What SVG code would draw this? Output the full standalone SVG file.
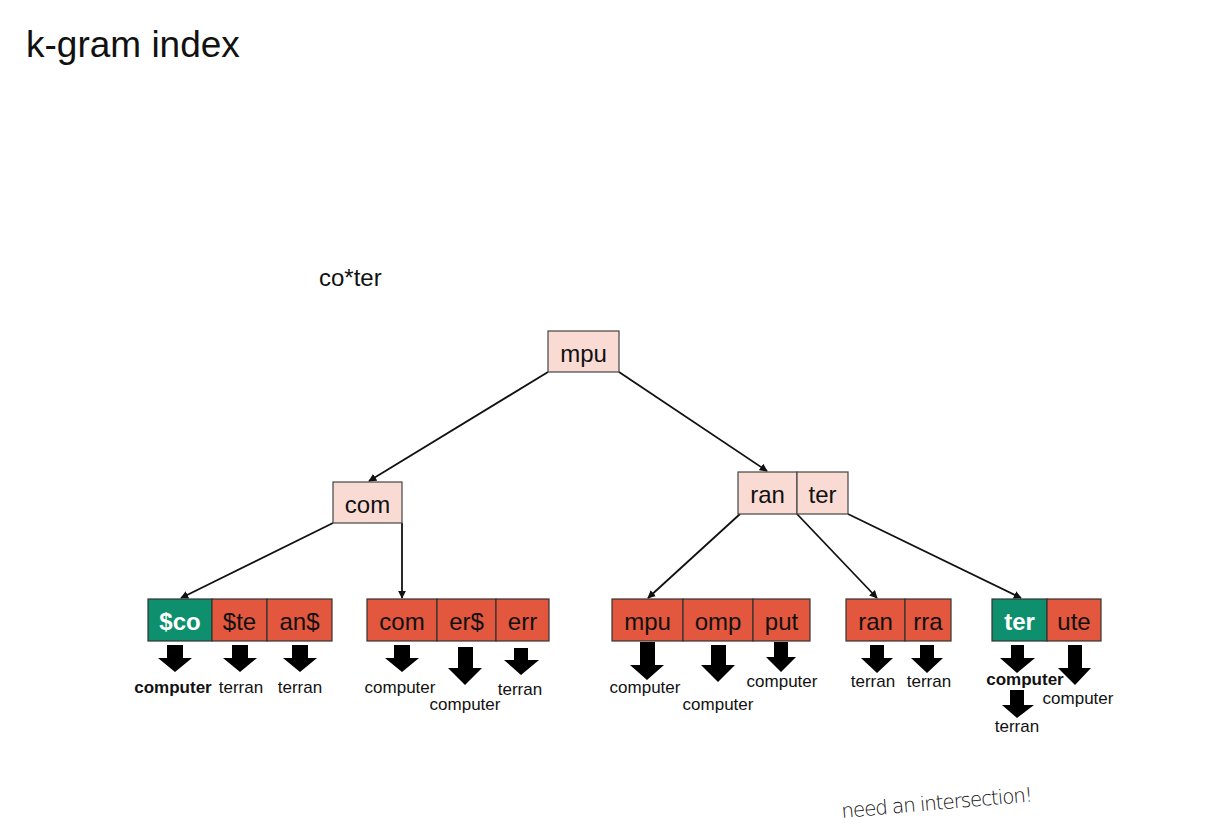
<svg xmlns="http://www.w3.org/2000/svg" width="1222" height="840" viewBox="0 0 1222 840">
<style>
text{font-family:"Liberation Sans",Arial,sans-serif;fill:#111}
.title{font-size:37px}
.q{font-size:24px}
.bt{font-size:24px;text-anchor:middle}
.wt{font-size:24px;text-anchor:middle;font-weight:bold;fill:#fff}
.lb{font-size:17px;text-anchor:middle}
.lbb{font-size:17px;text-anchor:middle;font-weight:bold}
.pink{fill:#fadbd4;stroke:#444;stroke-width:1.2}
.red{fill:#e2573d;stroke:#333;stroke-width:1.2}
.green{fill:#0e8f6e;stroke:#333;stroke-width:1.2}
.conn line{stroke:#111;stroke-width:1.8;marker-end:url(#ah)}
.arr{fill:#000}
.hand{font-family:"DejaVu Sans",sans-serif;font-size:20px;font-weight:300;fill:#111}
</style>
<defs>
<marker id="ah" viewBox="0 0 10 10" refX="9" refY="5" markerWidth="8" markerHeight="8" orient="auto" markerUnits="userSpaceOnUse">
<path d="M0,0 L10,5 L0,10 z" fill="#111"/>
</marker>
</defs>
<rect width="1222" height="840" fill="#fff"/>
<text class="title" x="26" y="57">k-gram index</text>
<text class="q" x="319" y="286">co*ter</text>

<g id="connectors" class="conn">
<line x1="548" y1="372" x2="369" y2="481"/>
<line x1="619" y1="372" x2="767" y2="471"/>
<line x1="333" y1="523" x2="181" y2="598"/>
<line x1="402" y1="523" x2="402" y2="598"/>
<line x1="740" y1="514" x2="648" y2="598"/>
<line x1="797" y1="514" x2="877" y2="598"/>
<line x1="848" y1="514" x2="1021" y2="598"/>
</g>

<g id="n-mpu"><rect class="pink" x="548" y="331" width="71" height="41"/><text class="bt" x="583.5" y="362">mpu</text></g>
<g id="n-com"><rect class="pink" x="333" y="482" width="69" height="41"/><text class="bt" x="367.5" y="513">com</text></g>
<g id="n-ranter"><rect class="pink" x="738" y="472" width="59" height="42"/><text class="bt" x="767.5" y="503">ran</text>
<rect class="pink" x="797" y="472" width="51" height="42"/><text class="bt" x="822.5" y="503">ter</text></g>

<g id="n-leaf1">
<rect class="green" x="148" y="599" width="64" height="42"/><text class="wt" x="180" y="630">$co</text>
<rect class="red" x="212" y="599" width="55" height="42"/><text class="bt" x="239.5" y="630">$te</text>
<rect class="red" x="267" y="599" width="65" height="42"/><text class="bt" x="299.5" y="630">an$</text>
<path class="arr" d="M167,645 H183 V658 H192 L175,672 L158,658 H167 Z"/>
<path class="arr" d="M232,645 H248 V658 H257 L240,672 L223,658 H232 Z"/>
<path class="arr" d="M292,645 H308 V658 H317 L300,672 L283,658 H292 Z"/>
<text class="lbb" x="173" y="693">computer</text>
<text class="lb" x="241" y="693">terran</text>
<text class="lb" x="300" y="693">terran</text>
</g>

<g id="n-leaf2">
<rect class="red" x="367" y="599" width="70" height="42"/><text class="bt" x="402" y="630">com</text>
<rect class="red" x="437" y="599" width="59" height="42"/><text class="bt" x="466.5" y="630">er$</text>
<rect class="red" x="496" y="599" width="53" height="42"/><text class="bt" x="522.5" y="630">err</text>
<path class="arr" d="M394,645 H410 V658 H419 L402,672 L385,658 H394 Z"/>
<path class="arr" d="M458,647 H473 V668 H482 L465,685 L448,668 H458 Z"/>
<path class="arr" d="M514,648 H528 V660 H539 L521,675 L504,660 H514 Z"/>
<text class="lb" x="400" y="693">computer</text>
<text class="lb" x="465" y="710">computer</text>
<text class="lb" x="520" y="695">terran</text>
</g>

<g id="n-leaf3">
<rect class="red" x="612" y="599" width="71" height="42"/><text class="bt" x="647.5" y="630">mpu</text>
<rect class="red" x="683" y="599" width="70" height="42"/><text class="bt" x="718" y="630">omp</text>
<rect class="red" x="753" y="599" width="57" height="42"/><text class="bt" x="781.5" y="630">put</text>
<path class="arr" d="M640,642 H655 V665 H664 L647,680 L630,665 H640 Z"/>
<path class="arr" d="M711,645 H726 V665 H735 L718,682 L701,665 H711 Z"/>
<path class="arr" d="M774,642 H788 V657 H796 L781,672 L766,657 H774 Z"/>
<text class="lb" x="645" y="693">computer</text>
<text class="lb" x="718" y="710">computer</text>
<text class="lb" x="782" y="687">computer</text>
</g>

<g id="n-leaf4">
<rect class="red" x="846" y="599" width="59" height="42"/><text class="bt" x="875.5" y="630">ran</text>
<rect class="red" x="905" y="599" width="46" height="42"/><text class="bt" x="928" y="630">rra</text>
<path class="arr" d="M870,645 H884 V658 H893 L877,673 L861,658 H870 Z"/>
<path class="arr" d="M920,645 H934 V658 H943 L927,673 L911,658 H920 Z"/>
<text class="lb" x="873" y="687">terran</text>
<text class="lb" x="929" y="687">terran</text>
</g>

<g id="n-leaf5">
<rect class="green" x="992" y="599" width="55" height="42"/><text class="wt" x="1019.5" y="630">ter</text>
<rect class="red" x="1047" y="599" width="54" height="42"/><text class="bt" x="1074" y="630">ute</text>
<path class="arr" d="M1011,645 H1024 V658 H1035 L1017,673 L1000,658 H1011 Z"/>
<path class="arr" d="M1010,690 H1024 V705 H1034 L1017,718 L1002,705 H1010 Z"/>
<path class="arr" d="M1068,645 H1082 V668 H1091 L1075,685 L1058,668 H1068 Z"/>
<text class="lbb" x="1025" y="685">computer</text>
<text class="lb" x="1017" y="732">terran</text>
<text class="lb" x="1078" y="704">computer</text>
</g>

<text class="hand" x="842" y="818" transform="rotate(-5 842 818)" textLength="192">need an intersection!</text>
</svg>
